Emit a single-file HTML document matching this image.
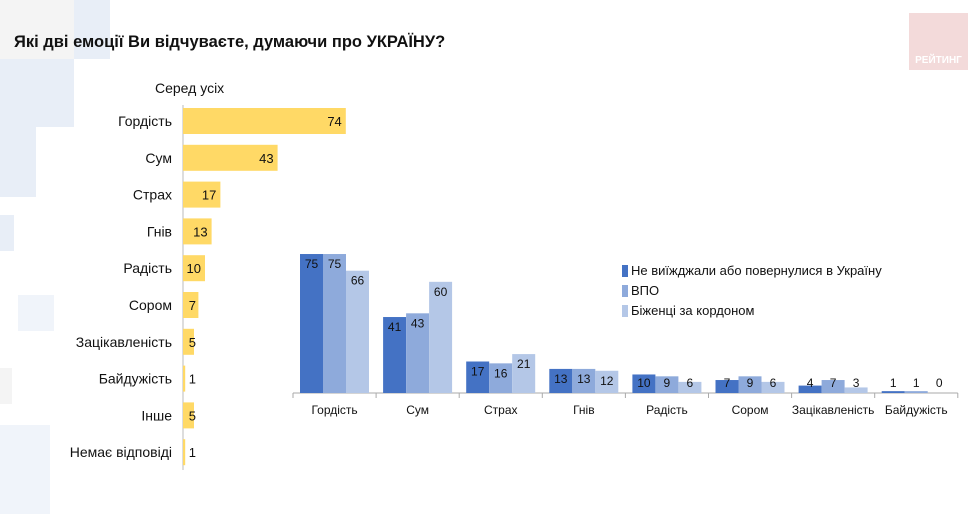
<!DOCTYPE html>
<html><head><meta charset="utf-8"><style>
body{margin:0;width:974px;height:514px;background:#fff;overflow:hidden;font-family:"Liberation Sans",sans-serif;position:relative}
.dec{position:absolute;background:#e8eef7}
</style></head><body>
<div class="dec" style="left:0;top:0;width:74px;height:59px;background:#f4f4f4"></div>
<div class="dec" style="left:74px;top:0;width:36px;height:59px"></div>
<div class="dec" style="left:0;top:59px;width:74px;height:68px"></div>
<div class="dec" style="left:0;top:127px;width:36px;height:70px"></div>
<div class="dec" style="left:0;top:215px;width:14px;height:36px"></div>
<div class="dec" style="left:18px;top:295px;width:36px;height:36px;background:#f0f4fa"></div>
<div class="dec" style="left:0;top:368px;width:12px;height:36px;background:#f4f4f4"></div>
<div class="dec" style="left:0;top:425px;width:50px;height:89px;background:#f0f4fa"></div>
<div style="position:absolute;left:909px;top:13px;width:59px;height:57px;background:#f3dada;color:#fff;font-weight:bold;font-size:10px;text-align:center;line-height:96px">РЕЙТИНГ</div>
<div style="position:absolute;left:14px;top:33px;font-size:16.5px;font-weight:bold;color:#111">Які дві емоції Ви відчуваєте, думаючи про УКРАЇНУ?</div>
<svg width="974" height="514" style="position:absolute;left:0;top:0" font-family="Liberation Sans, sans-serif">
<g id="left"></g><g id="right"></g>
</svg>
<script>
const leftCats=["Гордість","Сум","Страх","Гнів","Радість","Сором","Зацікавленість","Байдужість","Інше","Немає відповіді"];
const leftVals=[74,43,17,13,10,7,5,1,5,1];
const rightCats=["Гордість","Сум","Страх","Гнів","Радість","Сором","Зацікавленість","Байдужість"];
const s1=[75,41,17,13,10,7,4,1];
const s2=[75,43,16,13,9,9,7,1];
const s3=[66,60,21,12,6,6,3,0];
const seriesNames=["Не виїжджали або повернулися в Україну","ВПО","Біженці за кордоном"];
const NS="http://www.w3.org/2000/svg";
function mk(tag,attrs,parent,text){const e=document.createElementNS(NS,tag);for(const k in attrs)e.setAttribute(k,attrs[k]);if(text!==undefined)e.textContent=text;parent.appendChild(e);return e;}
const L=document.getElementById('left');
const lx=v=>183+v*2.2, ly=i=>121+i*36.8;
const st=mk('text',{x:155,y:93,'font-size':14,fill:'#111'},L,'Серед усіх');

const ax=mk('line',{x1:183,y1:105,x2:183,y2:470,stroke:'#bbb'},L);

leftCats.forEach((c,i)=>{
 const y=ly(i);
 const r=mk('rect',{x:183,y:y-13,width:lx(leftVals[i])-183,height:26,fill:'#ffd966'},L);
 
 const t=mk('text',{x:172,y:y+5,'font-size':14,'text-anchor':'end',fill:'#111'},L,c);
 
 const v=mk('text',{x:Math.max(lx(leftVals[i])-4,196),y:y+5,'font-size':13,'text-anchor':'end',fill:'#111'},L,leftVals[i]);
 
});
const R=document.getElementById('right');
const base=393,gw=83.1,x0=293,bw=23;
const ry=v=>base-v*1.853;
const colors=['#4472c4','#8eaadb','#b4c7e7'];
const series=[s1,s2,s3];
const bl=mk('line',{x1:x0,y1:base,x2:x0+gw*8,y2:base,stroke:'#aaa'},R);

rightCats.forEach((c,g)=>{
 const gx=x0+g*gw;
 const tk=mk('line',{x1:gx,y1:base,x2:gx,y2:base+5,stroke:'#aaa'},R);
 
 series.forEach((s,k)=>{
  const bx=gx+7+k*bw;
  const r=mk('rect',{x:bx,y:ry(s[g]),width:bw,height:base-ry(s[g]),fill:colors[k]},R);
  
  const ty=Math.min(ry(s[g])+14,387);
  const t=mk('text',{x:bx+bw/2,y:ty,'font-size':12,'text-anchor':'middle',fill:'#111'},R,s[g]);
  
 });
 const lb=mk('text',{x:gx+gw/2,y:414,'font-size':12,'text-anchor':'middle',fill:'#111'},R,c);
 
});
const tk=mk('line',{x1:x0+gw*8,y1:base,x2:x0+gw*8,y2:base+5,stroke:'#aaa'},R);

seriesNames.forEach((n,k)=>{
 const y=270+k*20;
 const sq=mk('rect',{x:622,y:y-5,width:6,height:12,fill:colors[k]},R);
 
 const t=mk('text',{x:631,y:y+5,'font-size':13,fill:'#111'},R,n);
 
});
</script>
</body></html>
